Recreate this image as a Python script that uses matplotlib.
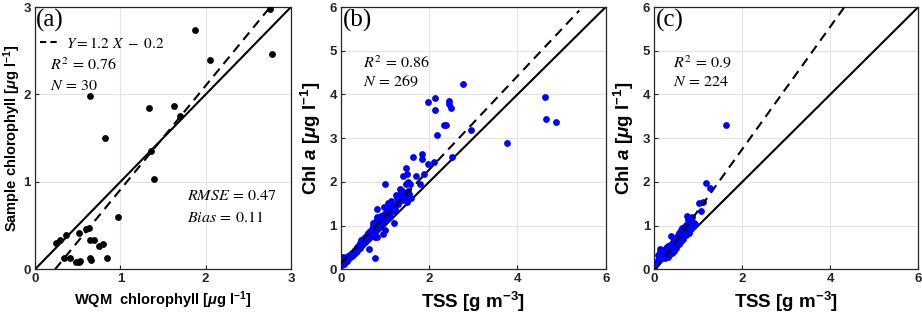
import matplotlib
matplotlib.use("Agg")
import matplotlib.pyplot as plt
from matplotlib.lines import Line2D

plt.rcParams['font.family'] = ['Liberation Sans', 'DejaVu Sans']
plt.rcParams['mathtext.fontset'] = 'custom'
plt.rcParams['mathtext.rm'] = 'Liberation Sans:bold'
plt.rcParams['mathtext.it'] = 'Liberation Sans:italic:bold'
plt.rcParams['mathtext.bf'] = 'Liberation Sans:bold'

# ---------------- data ----------------
# panel (a): WQM chlorophyll vs sample chlorophyll
a_x = [2.75, 1.87, 2.78, 2.05, 0.645, 1.34, 1.63, 1.70, 0.82, 1.39, 1.36, 0.97,
       0.25, 0.29, 0.36, 0.51, 0.60, 0.63, 0.645, 0.69, 0.75, 0.80,
       0.34, 0.41, 0.48, 0.53, 0.65, 0.66, 0.84, 0.52]
a_y = [2.98, 2.74, 2.46, 2.39, 1.98, 1.85, 1.87, 1.75, 1.50, 1.03, 1.35, 0.60,
       0.30, 0.34, 0.39, 0.41, 0.46, 0.47, 0.34, 0.33, 0.27, 0.29,
       0.13, 0.13, 0.08, 0.09, 0.13, 0.11, 0.13, 0.08]
a_fit = (1.19, -0.28)       # drawn regression line (slope, intercept)
a_fit_xrange = (0.235, 2.75)

# panel (b): TSS vs Chl a
b_x = [2.76, 2.12, 1.97, 2.12, 2.44, 2.44, 2.49, 2.18, 2.34, 2.38, 2.95, 2.51,
       2.11, 1.97, 1.84, 1.63, 1.83, 1.47, 1.89, 1.70, 1.49, 1.41, 1.51, 1.47,
       1.56, 1.78, 1.00, 3.76, 4.63, 4.64, 4.88, 1.59, 1.50, 1.34, 1.38, 1.25,
       1.32, 1.13, 1.07, 1.10, 0.98, 1.17, 0.81, 1.02, 0.92, 0.82, 0.88, 1.05,
       0.73, 1.20, 1.00, 0.96, 0.81, 0.76, 0.64, 0.78,
       0.00, 0.01, 0.02, 0.03, 0.04, 0.05, 0.06, 0.07, 0.09, 0.10, 0.11, 0.13,
       0.14, 0.15, 0.17, 0.18, 0.20, 0.21, 0.23, 0.24, 0.26, 0.27, 0.29, 0.30,
       0.31, 0.33, 0.34, 0.36, 0.37, 0.38, 0.40, 0.41, 0.42, 0.44, 0.45, 0.46,
       0.47, 0.49, 0.50, 0.51, 0.53, 0.54, 0.55, 0.57, 0.58, 0.59, 0.61, 0.62,
       0.63, 0.65, 0.66, 0.67, 0.69, 0.70, 0.71, 0.72, 0.73, 0.75, 0.76, 0.77,
       0.78, 0.79, 0.80, 0.82, 0.83, 0.84, 0.86, 0.87, 0.88, 0.90, 0.91, 0.93,
       0.94, 0.95, 0.97, 0.99, 1.01, 1.03, 1.05, 1.08, 1.10, 1.12, 1.15, 1.18,
       1.20, 1.22, 1.26, 1.28, 1.30, 1.35, 1.38, 1.42, 1.45, 1.52, 1.55]
b_y = [4.23, 3.92, 3.82, 3.64, 3.85, 3.77, 3.70, 3.08, 3.30, 3.31, 3.18, 2.57,
       2.45, 2.42, 2.64, 2.57, 2.52, 2.31, 2.18, 2.14, 2.17, 2.14, 1.99, 1.96,
       1.96, 1.96, 1.94, 2.90, 3.95, 3.43, 3.36, 1.64, 1.55, 1.84, 1.79, 1.71,
       1.71, 1.56, 1.51, 1.43, 1.42, 1.39, 1.39, 1.28, 1.20, 1.20, 1.13, 1.14,
       1.07, 1.05, 0.90, 0.81, 0.75, 0.73, 0.46, 0.25,
       0.10, 0.18, 0.25, 0.14, 0.22, 0.27, 0.12, 0.20, 0.17, 0.26, 0.22, 0.19,
       0.28, 0.24, 0.30, 0.26, 0.33, 0.28, 0.36, 0.31, 0.38, 0.34, 0.41, 0.36,
       0.44, 0.39, 0.47, 0.42, 0.52, 0.46, 0.50, 0.56, 0.48, 0.60, 0.53, 0.66,
       0.57, 0.62, 0.70, 0.58, 0.66, 0.74, 0.63, 0.71, 0.78, 0.68, 0.75, 0.84,
       0.72, 0.80, 0.88, 0.76, 0.85, 0.93, 0.80, 0.98, 0.88, 0.95, 1.05, 0.86,
       1.00, 1.10, 0.92, 1.04, 1.15, 0.97, 1.08, 1.18, 1.02, 1.12, 1.22, 1.06,
       1.16, 1.25, 1.10, 1.20, 1.30, 1.15, 1.24, 1.35, 1.20, 1.30, 1.42, 1.33,
       1.48, 1.38, 1.52, 1.62, 1.50, 1.68, 1.58, 1.75, 1.66, 1.80, 1.72]
b_fit = (1.07, 0.14)
b_fit_xrange = (0.0, 5.40)

# panel (c): TSS vs Chl a
c_x = [0.03, 0.05, 0.08, 0.09, 0.10, 0.12, 0.13, 0.14, 0.15, 0.17, 0.18, 0.19,
       0.20, 0.21, 0.22, 0.23, 0.24, 0.25, 0.26, 0.27, 0.28, 0.29, 0.30, 0.31,
       0.32, 0.33, 0.34, 0.35, 0.36, 0.37, 0.38, 0.39, 0.40, 0.41, 0.42, 0.43,
       0.44, 0.45, 0.46, 0.47, 0.48, 0.49, 0.50, 0.51, 0.52, 0.53, 0.54, 0.55,
       0.56, 0.57, 0.58, 0.59, 0.60, 0.61, 0.62, 0.63, 0.64, 0.65, 0.66, 0.67,
       0.68, 0.70, 0.72, 0.73, 0.74, 0.75, 0.76, 0.77, 0.78, 0.80, 0.82, 0.84,
       0.86, 0.88, 0.90, 0.93, 1.02, 1.05, 1.10, 1.17, 1.26, 1.64]
c_y = [0.14, 0.17, 0.22, 0.33, 0.27, 0.40, 0.46, 0.30, 0.36, 0.25, 0.42, 0.33,
       0.40, 0.29, 0.45, 0.35, 0.26, 0.41, 0.48, 0.32, 0.50, 0.38, 0.44, 0.28,
       0.53, 0.40, 0.47, 0.34, 0.56, 0.43, 0.76, 0.50, 0.38, 0.59, 0.46, 0.63,
       0.52, 0.42, 0.66, 0.55, 0.70, 0.60, 0.48, 0.73, 0.63, 0.78, 0.67, 0.82,
       0.58, 0.74, 0.86, 0.70, 0.90, 0.64, 0.80, 0.94, 0.75, 0.88, 0.70, 0.97,
       0.82, 0.92, 0.78, 1.02, 0.88, 1.22, 0.95, 1.13, 0.84, 1.05, 0.92, 1.10,
       1.20, 1.00, 1.07, 1.03, 1.52, 1.34, 1.53, 1.98, 1.85, 3.31]
c_fit = (1.40, -0.05)
c_fit_xrange = (0.04, 4.34)

a_ticks = [0, 1, 2, 3]
bc_ticks = [0, 2, 4, 6]
bc_yticks = [0, 1, 2, 3, 4, 5, 6]

# ---------------- figure ----------------
W, H = 922, 321
fig = plt.figure(figsize=(W / 100, H / 100), dpi=100)

def px_axes(l, r, t, b):
    return fig.add_axes([l / W, 1 - b / H, (r - l) / W, (b - t) / H])

axA = px_axes(35, 291, 7, 269.3)
axB = px_axes(341, 605.7, 7, 269.3)
axC = px_axes(654.3, 918.3, 7, 269.3)

edge = '#262626'

def style(ax, lim, xt, yt):
    ax.set_xlim(0, lim)
    ax.set_ylim(0, lim)
    ax.set_xticks(xt)
    ax.set_yticks(yt)
    ax.grid(True, color='#e4e4e4', linewidth=0.8)
    ax.set_axisbelow(True)
    for s in ax.spines.values():
        s.set_color(edge)
        s.set_linewidth(0.9)
    ax.tick_params(direction='in', length=3, width=0.8, colors=edge,
                   labelsize=9.5, pad=3)
    for lab in ax.get_xticklabels() + ax.get_yticklabels():
        lab.set_fontweight('bold')

def fitline(ax, fit, xr, **kw):
    s, i = fit
    ax.plot(list(xr), [s * xr[0] + i, s * xr[1] + i], color='black',
            linestyle=(0, (4.5, 3)), linewidth=1.5, **kw)

dash_kw = dict(math_fontfamily='stix')

# panel (a)
style(axA, 3, a_ticks, a_ticks)
axA.plot([0, 3], [0, 3], color='black', linewidth=1.5, zorder=2)
fitline(axA, a_fit, a_fit_xrange, zorder=2)
axA.scatter(a_x, a_y, s=24, color='black', zorder=3, linewidths=0)
axA.set_xlabel(r'WQM  chlorophyll [$\mu$g l$^{-1}$]', fontsize=10.5,
               fontweight='bold', labelpad=3)
axA.set_ylabel(r'Sample chlorophyll [$\mu$g l$^{-1}$]', fontsize=10.5,
               fontweight='bold')
axA.yaxis.set_label_coords(-0.048, 0.5)
axA.text(0.005, 0.947, '(a)', transform=axA.transAxes, fontsize=18,
         family='Liberation Serif', va='center', ha='left')
h = Line2D([], [], color='black', linestyle=(0, (3, 2)), linewidth=1.5)
leg = axA.legend([h], [r'$Y = 1.2\ X\ -\ 0.2$'], loc='center left',
                 bbox_to_anchor=(0.02, 0.862), frameon=False, handlelength=1.2,
                 handletextpad=0.5, borderaxespad=0, borderpad=0,
                 fontsize=11)
for t in leg.get_texts():
    t.set_math_fontfamily('stix')
axA.text(0.059, 0.779, r'$R^2\,=\,0.76$', transform=axA.transAxes,
         fontsize=11.5, va='center', **dash_kw)
axA.text(0.059, 0.699, r'$N\,=\,30$', transform=axA.transAxes,
         fontsize=11.5, va='center', **dash_kw)
axA.text(0.593, 0.283, r'$RMSE\,=\,0.47$', transform=axA.transAxes,
         fontsize=11.5, va='center', **dash_kw)
axA.text(0.593, 0.198, r'$Bias\,=\,0.11$', transform=axA.transAxes,
         fontsize=11.5, va='center', **dash_kw)

# panels (b), (c)
for ax, xs, ys, fit, xr, tag, r2, n, tx in [
        (axB, b_x, b_y, b_fit, b_fit_xrange, '(b)', '0.86', '269', 0.082),
        (axC, c_x, c_y, c_fit, c_fit_xrange, '(c)', '0.9', '224', 0.072)]:
    style(ax, 6, bc_ticks, bc_yticks)
    ax.plot([0, 6], [0, 6], color='black', linewidth=1.5, zorder=2)
    fitline(ax, fit, xr, zorder=4)
    ax.scatter(xs, ys, s=24, color='#0000ff', zorder=3, linewidths=0)
    ax.set_xlabel(r'TSS [g m$^{-3}$]', fontsize=13.5, fontweight='bold',
                  labelpad=3)
    ax.set_ylabel(r'Chl $a$ [$\mu$g l$^{-1}$]', fontsize=13.5,
                  fontweight='bold')
    ax.yaxis.set_label_coords(-0.068, 0.5)
    ax.text(0.007, 0.948, tag, transform=ax.transAxes, fontsize=18,
            family='Liberation Serif', va='center', ha='left')
    ax.text(tx, 0.788, r'$R^2\,=\,' + r2 + '$', transform=ax.transAxes,
            fontsize=11.5, va='center', **dash_kw)
    ax.text(tx, 0.715, r'$N\,=\,' + n + '$', transform=ax.transAxes,
            fontsize=11.5, va='center', **dash_kw)

fig.savefig('out.png', dpi=100)
